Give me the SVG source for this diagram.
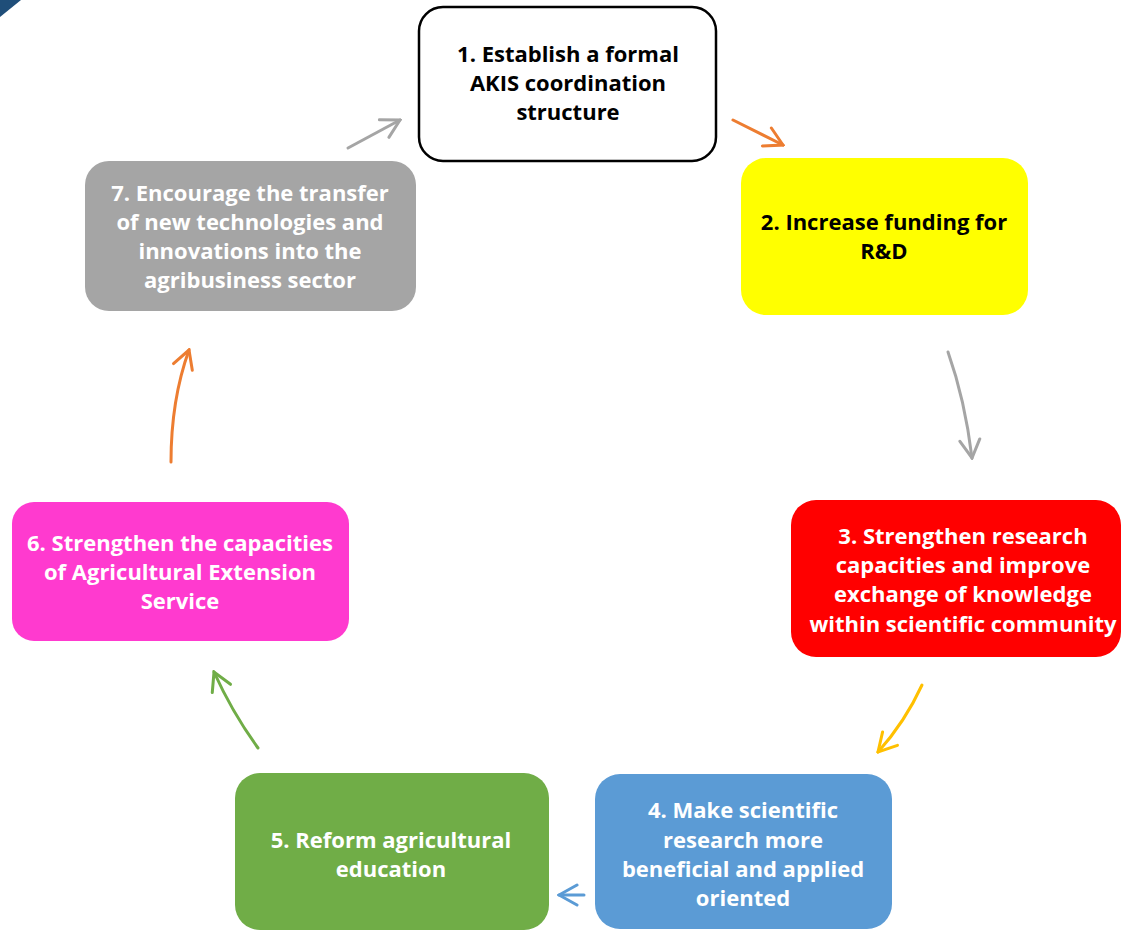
<svg xmlns="http://www.w3.org/2000/svg" width="1122" height="934" viewBox="0 0 1122 934">
<style>
.t{font-family:"Open Sans","Liberation Sans",sans-serif;font-weight:700;font-size:22px;text-anchor:middle}
.w{fill:#ffffff}.k{fill:#000000}
.a{fill:none;stroke-width:3;stroke-linecap:round}
</style>
<defs>
<marker id="mg" markerUnits="userSpaceOnUse" markerWidth="24" markerHeight="24" viewBox="0 0 24 24" refX="22" refY="12" orient="auto"><path d="M4,2 L22,12 L4,22" fill="none" stroke="#A5A5A5" stroke-width="3" stroke-linecap="round"/></marker>
<marker id="mo" markerUnits="userSpaceOnUse" markerWidth="24" markerHeight="24" viewBox="0 0 24 24" refX="22" refY="12" orient="auto"><path d="M4,2 L22,12 L4,22" fill="none" stroke="#ED7D31" stroke-width="3" stroke-linecap="round"/></marker>
<marker id="my" markerUnits="userSpaceOnUse" markerWidth="24" markerHeight="24" viewBox="0 0 24 24" refX="22" refY="12" orient="auto"><path d="M4,2 L22,12 L4,22" fill="none" stroke="#FFC000" stroke-width="3" stroke-linecap="round"/></marker>
<marker id="mb" markerUnits="userSpaceOnUse" markerWidth="24" markerHeight="24" viewBox="0 0 24 24" refX="22" refY="12" orient="auto"><path d="M4,2 L22,12 L4,22" fill="none" stroke="#5B9BD5" stroke-width="3" stroke-linecap="round"/></marker>
<marker id="mn" markerUnits="userSpaceOnUse" markerWidth="24" markerHeight="24" viewBox="0 0 24 24" refX="22" refY="12" orient="auto"><path d="M4,2 L22,12 L4,22" fill="none" stroke="#70AD47" stroke-width="3" stroke-linecap="round"/></marker>
</defs>
<rect width="1122" height="934" fill="#ffffff"/>
<polygon points="0,0 21,0 0,17" fill="#1F4E79"/>

<g id="node1">
<rect x="419" y="7" width="297" height="154" rx="24" fill="#ffffff" stroke="#000000" stroke-width="2.5"/>
<text class="t k"><tspan x="568" y="62">1. Establish a formal</tspan><tspan x="568" y="91">AKIS coordination</tspan><tspan x="568" y="120">structure</tspan></text>
</g>
<g id="node2">
<rect x="741" y="158" width="287" height="157" rx="25" fill="#FFFF00"/>
<text class="t k"><tspan x="884" y="230">2. Increase funding for</tspan><tspan x="884" y="259">R&amp;D</tspan></text>
</g>
<g id="node3">
<rect x="791" y="500" width="330" height="157" rx="25" fill="#FF0000"/>
<text class="t w"><tspan x="963" y="544">3. Strengthen research</tspan><tspan x="963" y="573">capacities and improve</tspan><tspan x="963" y="602">exchange of knowledge</tspan><tspan x="963" y="632">within scientific community</tspan></text>
</g>
<g id="node4">
<rect x="595" y="774" width="297" height="155" rx="25" fill="#5B9BD5"/>
<text class="t w"><tspan x="743" y="818">4. Make scientific</tspan><tspan x="743" y="848">research more</tspan><tspan x="743" y="877">beneficial and applied</tspan><tspan x="743" y="906">oriented</tspan></text>
</g>
<g id="node5">
<rect x="235" y="773" width="314" height="157" rx="25" fill="#70AD47"/>
<text class="t w"><tspan x="391" y="848">5. Reform agricultural</tspan><tspan x="391" y="877">education</tspan></text>
</g>
<g id="node6">
<rect x="12" y="502" width="337" height="139" rx="22" fill="#FF3ACF"/>
<text class="t w"><tspan x="180" y="551">6. Strengthen the capacities</tspan><tspan x="180" y="580">of Agricultural Extension</tspan><tspan x="180" y="609">Service</tspan></text>
</g>
<g id="node7">
<rect x="85" y="161" width="331" height="150" rx="24" fill="#A5A5A5"/>
<text class="t w"><tspan x="250" y="201">7. Encourage the transfer</tspan><tspan x="250" y="230">of new technologies and</tspan><tspan x="250" y="259">innovations into the</tspan><tspan x="250" y="288">agribusiness sector</tspan></text>
</g>

<g id="connectors">
<path class="a" d="M348,148 L400,120" stroke="#A5A5A5" marker-end="url(#mg)"/>
<path class="a" d="M733,120 L783,145" stroke="#ED7D31" marker-end="url(#mo)"/>
<path class="a" d="M948,352 Q965,400 972,458" stroke="#A5A5A5" marker-end="url(#mg)"/>
<path class="a" d="M922,685 Q905,722 878,752" stroke="#FFC000" marker-end="url(#my)"/>
<path class="a" d="M584,895 L559,895" stroke="#5B9BD5" marker-end="url(#mb)"/>
<path class="a" d="M258,748 Q232,712 214,672" stroke="#70AD47" marker-end="url(#mn)"/>
<path class="a" d="M171,462 Q171,400 189,350" stroke="#ED7D31" marker-end="url(#mo)"/>
</g>
</svg>
